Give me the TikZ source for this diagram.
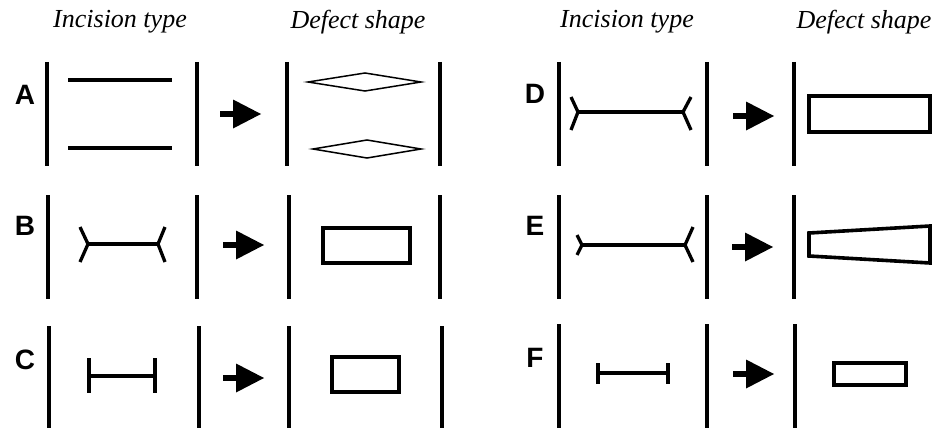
\documentclass[tikz,border=0pt]{standalone}
\usepackage{fontspec}
\setmainfont{Liberation Serif}
\newfontfamily\lettersans{Liberation Sans}
\tikzset{
  bar/.style={line width=4pt},
  cut/.style={line width=3.3pt, line join=round},
  defect/.style={line width=3.6pt},
  thin/.style={line width=1.5pt, line join=miter},
  head/.style={font=\fontsize{26}{28}\selectfont\itshape, inner sep=0pt},
  letter/.style={font=\lettersans\bfseries\fontsize{28}{30}\selectfont, inner sep=0pt},
  pics/bigarrow/.style={code={
    \fill (0,-3) rectangle (15,3);
    \fill (13,-14.5) -- (41,0) -- (13,14.5) -- cycle;
  }}
}
\begin{document}
\begin{tikzpicture}[x=1pt,y=-1pt]
\useasboundingbox (0,0) rectangle (940,428);
% headings
\node[head] (h1) at (120,22) {Incision type};
\node[head] (h2) at (358,22) {Defect shape};
\node[head] (h3) at (627,22) {Incision type};
\node[head] (h4) at (864,22) {Defect shape};
% letters
\node[letter] (la) at (25,95) {A};
\node[letter] (lb) at (25,226) {B};
\node[letter] (lc) at (25,360) {C};
\node[letter] (ld) at (535,94) {D};
\node[letter] (le) at (535,226) {E};
\node[letter] (lf) at (535,358) {F};
% vertical bars, left group
\foreach \x in {47,197,287,440}{\draw[bar] (\x,62) -- (\x,166);}
\foreach \x in {48,197,289,440}{\draw[bar] (\x,195) -- (\x,299);}
\foreach \x in {49,199,289,442}{\draw[bar] (\x,326) -- (\x,428);}
% vertical bars, right group
\foreach \x in {559,707,794}{\draw[bar] (\x,62) -- (\x,166);}
\foreach \x in {559,707,794}{\draw[bar] (\x,195) -- (\x,299);}
\foreach \x in {559,707,795}{\draw[bar] (\x,324) -- (\x,428);}
% A
\draw[cut] (68,80) -- (172,80);
\draw[cut] (68,148) -- (172,148);
\pic at (220,114) {bigarrow};
\draw[thin] (308,82) -- (365,73) -- (421,82) -- (365,91) -- cycle;
\draw[thin] (313,149) -- (367,140) -- (421,149) -- (367,158) -- cycle;
% B
\draw[cut] (88,244) -- (158,244);
\draw[cut] (80,227) -- (88,244) -- (80,262);
\draw[cut] (165,227) -- (158,244) -- (165,262);
\pic at (223,245) {bigarrow};
\draw[defect] (323,228) rectangle (410,263);
% C
\draw[cut] (89,376) -- (155,376);
\draw[cut] (89,358) -- (89,393);
\draw[cut] (155,358) -- (155,393);
\pic at (223,378) {bigarrow};
\draw[defect] (332,357) rectangle (399,392);
% D
\draw[cut] (578,112) -- (683,112);
\draw[cut] (571,97) -- (578,112) -- (571,130);
\draw[cut] (691,97) -- (683,112) -- (691,130);
\pic at (733,116) {bigarrow};
\draw[defect] (809,96) rectangle (930,132);
% E
\draw[cut] (582,245) -- (685,245);
\draw[cut] (577,235) -- (582,245) -- (577,255);
\draw[cut] (693,227) -- (685,245) -- (693,262);
\pic at (732,247) {bigarrow};
\draw[defect, line join=miter] (809,233) -- (930,226) -- (930,263) -- (809,256) -- cycle;
% F
\draw[cut] (598,373) -- (668,373);
\draw[cut] (598,363) -- (598,384);
\draw[cut] (668,363) -- (668,384);
\pic at (733,374) {bigarrow};
\draw[defect] (834,363) rectangle (906,385);
\end{tikzpicture}
\end{document}
